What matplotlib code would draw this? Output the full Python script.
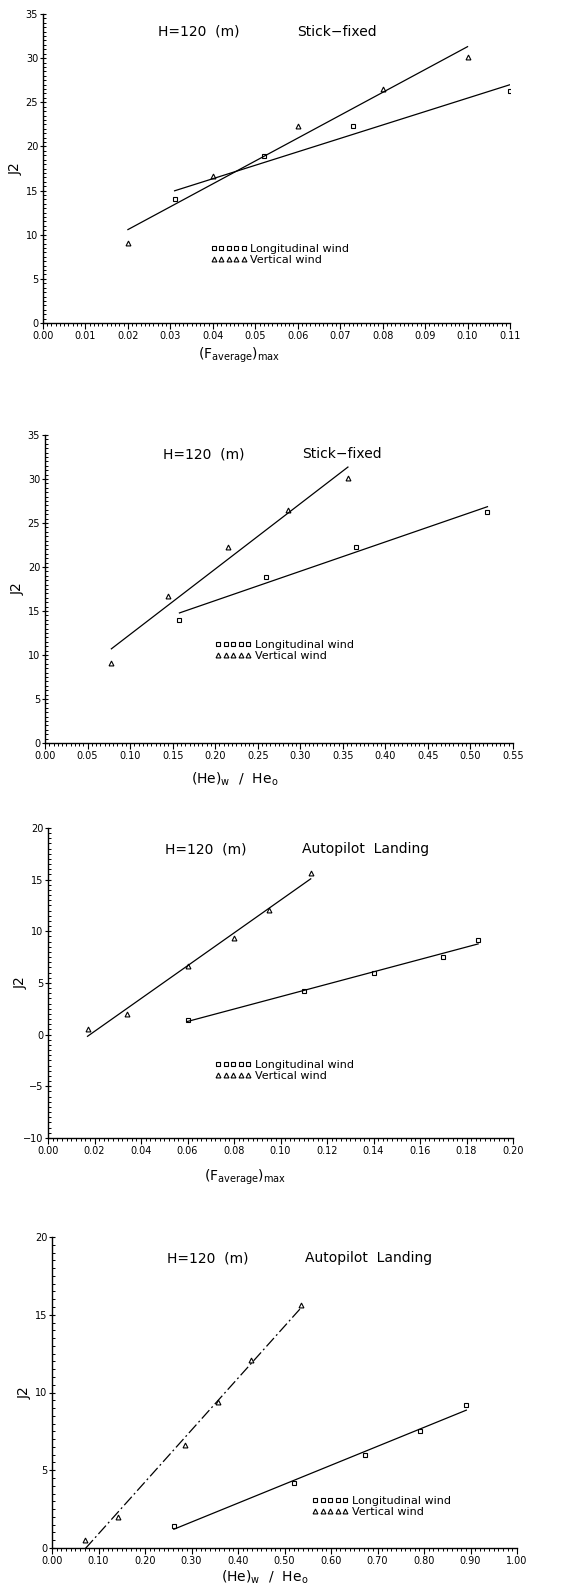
import matplotlib
matplotlib.use("Agg")

import matplotlib.pyplot as plt
import numpy as np
from matplotlib.ticker import MultipleLocator, FormatStrFormatter

# J2 values (same runs used on both x measures)
j2_long_stick = [14.0, 18.9, 22.3, 26.3]
j2_vert_stick = [9.1, 16.7, 22.3, 26.5, 30.1]
j2_long_auto = [1.4, 4.2, 6.0, 7.5, 9.2]
j2_vert_auto = [0.5, 2.0, 6.6, 9.4, 12.1, 15.6]

# (F_average)max
f_long_stick = [0.031, 0.052, 0.073, 0.110]
f_vert_stick = [0.020, 0.040, 0.060, 0.080, 0.100]
f_long_auto = [0.060, 0.110, 0.140, 0.170, 0.185]
f_vert_auto = [0.017, 0.034, 0.060, 0.080, 0.095, 0.113]

# (He)w / He0
he_long_stick = [0.158, 0.260, 0.365, 0.520]
he_vert_stick = [0.078, 0.145, 0.215, 0.285, 0.356]
he_long_auto = [0.262, 0.521, 0.674, 0.791, 0.891]
he_vert_auto = [0.072, 0.143, 0.285, 0.357, 0.428, 0.536]

plt.rcParams["font.family"] = ["DejaVu Sans"]
plt.rcParams["mathtext.default"] = "regular"

F_LABEL = r"$(\mathrm{F}_{\mathrm{average}})_{\mathrm{max}}$"
HE_LABEL = r"$(\mathrm{He})_{\mathrm{w}}\ \ /\ \ \mathrm{He}_{\mathrm{o}}$"


def fit_line(ax, x, y, ls="-"):
    k, b = np.polyfit(x, y, 1)
    xs = np.array([min(x), max(x)])
    ax.plot(xs, k * xs + b, color="black", lw=0.9, ls=ls)


def style_axes(ax, xmax, xmajor, xminor, ymin, ymax):
    ax.set_xlim(0, xmax)
    ax.set_ylim(ymin, ymax)
    for s in ("top", "right"):
        ax.spines[s].set_visible(False)
    for s in ("left", "bottom"):
        ax.spines[s].set_linewidth(1.0)
    ax.xaxis.set_major_locator(MultipleLocator(xmajor))
    ax.xaxis.set_minor_locator(MultipleLocator(xminor))
    ax.xaxis.set_major_formatter(FormatStrFormatter("%.2f"))
    ax.yaxis.set_major_locator(MultipleLocator(5))
    ax.yaxis.set_minor_locator(MultipleLocator(0.5))
    ax.tick_params(axis="x", which="major", direction="out", length=4.5, width=0.8, labelsize=7, pad=1)
    ax.tick_params(axis="x", which="minor", direction="out", length=2.5, width=0.7)
    ax.tick_params(axis="y", which="major", direction="inout", length=5, width=0.8, labelsize=7, pad=1)
    ax.tick_params(axis="y", which="minor", direction="in", length=2.5, width=0.7)


def panel(fig, rect, x_long, y_long, x_vert, y_vert, limits, title, xlabel,
          txt_pos, leg_pos, xlabel_pos, vert_ls="-"):
    ax = fig.add_axes(rect)
    style_axes(ax, *limits)

    ax.plot(x_long, y_long, ls="none", marker="s", ms=3, mfc="none", mec="black", mew=0.8,
            label="Longitudinal wind")
    ax.plot(x_vert, y_vert, ls="none", marker="^", ms=3.5, mfc="none", mec="black", mew=0.8,
            label="Vertical wind")
    fit_line(ax, x_long, y_long)
    fit_line(ax, x_vert, y_vert, ls=vert_ls)

    ax.text(txt_pos[0], txt_pos[2], "H=120  (m)", transform=ax.transAxes,
            fontsize=10, va="center", ha="left")
    ax.text(txt_pos[1], txt_pos[2], title, transform=ax.transAxes,
            fontsize=10, va="center", ha="left")

    ax.legend(loc="upper left", bbox_to_anchor=leg_pos, frameon=False, numpoints=5,
              handlelength=3.3, handletextpad=0.3, borderpad=0, borderaxespad=0,
              labelspacing=0.1, fontsize=8)

    ax.set_ylabel("J2", fontsize=10)
    ax.yaxis.set_label_coords(-0.043, 0.5)
    ax.set_xlabel(xlabel, fontsize=10)
    ax.xaxis.set_label_coords(*xlabel_pos)
    return ax


def run():
    W, H = 577, 1584
    fig = plt.figure(figsize=(W / 100, H / 100), dpi=100)

    def rect(l, r, t, b):
        return [l / W, 1 - b / H, (r - l) / W, (b - t) / H]

    panel(fig, rect(43, 510, 14, 323), f_long_stick, j2_long_stick, f_vert_stick, j2_vert_stick,
          (0.11, 0.01, 0.001, 0, 35), "Stick\u2212fixed", F_LABEL,
          (0.246, 0.544, 0.942), (0.358, 0.255), (0.42, -0.075))

    panel(fig, rect(45, 513, 435, 743), he_long_stick, j2_long_stick, he_vert_stick, j2_vert_stick,
          (0.55, 0.05, 0.005, 0, 35), "Stick\u2212fixed", HE_LABEL,
          (0.252, 0.549, 0.938), (0.363, 0.335), (0.406, -0.088))

    panel(fig, rect(48, 513, 828, 1138), f_long_auto, j2_long_auto, f_vert_auto, j2_vert_auto,
          (0.20, 0.02, 0.002, -10, 20), "Autopilot  Landing", F_LABEL,
          (0.252, 0.546, 0.932), (0.359, 0.252), (0.424, -0.095))

    panel(fig, rect(52, 517, 1237, 1548), he_long_auto, j2_long_auto, he_vert_auto, j2_vert_auto,
          (1.0, 0.1, 0.01, 0, 20), "Autopilot  Landing", HE_LABEL,
          (0.247, 0.544, 0.932), (0.559, 0.168), (0.458, -0.066), vert_ls=(0, (9, 2.5, 1.5, 2.5)))

    fig.savefig("out.png", dpi=100)
    plt.close(fig)


if __name__ == "__main__":
    run()
